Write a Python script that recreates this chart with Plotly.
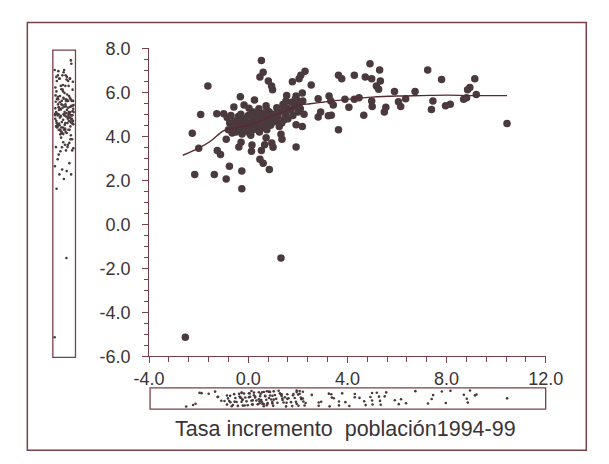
import plotly.graph_objects as go

# ---- data ----
tasa_pob = [
    -2.54, 1.32, 10.44,
    0.53, 0.60, 0.47, 0.81, 0.94, 0.98, -1.63, -0.32, -0.58, -0.17, 0.03, 0.25, 0.43, 0.72,
    -1.92, -1.27, -0.99, -2.26, -2.00, -1.25, -1.12, -0.89, -0.29, -0.38, 0.15, 0.13, 0.53,
    0.66, 0.47, 0.60, 0.85, -0.76, -0.26, -2.16, -1.37, -0.89, -0.26, 0.43, 0.72,
    1.78, 2.12, 2.29, 2.05, 2.54, 1.55, 1.52, 1.93, 1.99, 2.18, 2.82, 3.26, 3.33, 3.43, 3.90,
    4.06, 4.28, 4.47, 2.92, 2.82, 3.23, 3.35, 3.64, 3.64, 3.77, 4.28, 4.66, 4.72, 4.98, 4.91,
    5.30, 5.33, 5.17, 5.26, 4.98, 5.00, 5.55, 5.49, 5.90, 6.06, 1.93, 1.32, 1.36, 1.93, 2.18,
    0.95, 1.00,
    7.24, 7.80, 9.14, 6.15, 6.35, 6.73, 7.45, 7.39, 7.96, 8.15, 8.69, 8.81, 8.85, 8.94, 9.20,
    -0.85, -0.75, -0.70, -0.60, -0.55, -0.50, -0.45, -0.40, -0.35, -0.30, -0.25, -0.20, -0.15,
    -0.10, -0.05, 0.00, 0.00, -0.80, -0.65, -0.30,
    0.05, 0.10, 0.15, 0.20, 0.25, 0.30, 0.35, 0.40, 0.45, 0.50, 0.55, 0.60, 0.65, 0.70, 0.75,
    0.80, 0.85, 0.90, 0.95, 1.00, 0.20, 0.40, 0.75, 0.10,
    1.05, 1.10, 1.15, 1.20, 1.30, 1.35, 1.40, 1.50, 1.55, 1.60, 1.70, 1.75, 1.80, 1.85, 1.90,
    2.00, 2.05, 2.10, 2.20, 2.25, 1.25, 1.45,
]
tasa_y = [
    -5.13, -1.53, 4.58,
    7.45, 6.91, 6.70, 6.51, 6.29, 6.12, 6.29, 5.80, 5.33, 5.42, 5.27, 5.65, 5.25, 5.39,
    4.99, 5.03, 5.03, 4.14, 3.46, 3.36, 3.17, 3.87, 3.73, 3.51, 3.61, 3.32, 3.36,
    3.62, 2.96, 2.78, 2.49, 2.64, 2.42, 2.27, 2.27, 2.06, 1.62, 4.30, 3.94,
    6.48, 6.77, 6.96, 6.62, 6.33, 5.86, 5.61, 5.83, 5.61, 5.97, 5.71, 5.83, 5.61, 5.42, 5.68,
    5.32, 5.68, 5.75, 5.10, 4.88, 4.93, 4.96, 4.30, 6.77, 6.62, 6.77, 4.96, 6.70, 6.62, 7.30,
    7.01, 6.51, 6.29, 6.14, 5.61, 5.36, 5.32, 5.10, 6.04, 5.57, 3.51, 4.09, 3.87, 4.52, 4.45,
    3.70, 3.50,
    7.01, 6.58, 6.62, 5.36, 5.71, 6.04, 5.61, 5.22, 5.39, 5.46, 5.68, 5.75, 6.12, 6.22, 5.90,
    4.85, 4.60, 4.95, 4.40, 4.70, 4.20, 4.55, 4.90, 4.30, 4.65, 4.10, 4.45, 4.80,
    4.25, 4.60, 4.35, 4.95, 4.30, 4.15, 5.00,
    4.15, 4.50, 4.75, 4.30, 4.60, 4.95, 4.40, 4.70, 4.20, 4.55, 4.85, 4.40, 5.05, 4.60, 4.30,
    4.80, 5.10, 4.50, 4.85, 4.65, 5.10, 5.05, 5.20, 4.05,
    5.00, 4.70, 5.30, 4.90, 5.15, 4.60, 5.45, 5.00, 5.30, 4.80, 5.20, 5.55, 4.95, 5.35, 5.70,
    5.10, 5.45, 5.25, 5.60, 5.00, 4.45, 4.75,
]
smooth_x = [-2.64, -2.0, -1.5, -1.0, -0.6, 0.0, 0.5, 1.0, 1.5, 2.0, 2.5, 3.0, 3.5, 4.0,
            5.0, 6.0, 7.0, 8.0, 9.0, 10.44]
smooth_y = [3.14, 3.46, 3.80, 4.25, 4.38, 4.50, 4.70, 4.95, 5.15, 5.40, 5.48, 5.55, 5.62,
            5.68, 5.78, 5.83, 5.85, 5.87, 5.85, 5.85]

x_ticks = [-4, 0, 4, 8, 12]
y_ticks = [-6, -4, -2, 0, 2, 4, 6, 8]
x_title = "Tasa incremento  población1994-99"

# ---- styling ----
W, H = 609, 464
DOT = "#4a3a3e"
LINE = "#7a4049"
TXT = "#3a3336"
FONT = "Liberation Sans, Arial, sans-serif"

def px(x):
    return x / W

def py(y):
    return 1 - y / H

n = len(tasa_pob)
# deterministic jitter positions for the marginal strip plots
jit_a = [0.08 + 0.84 * ((i * 0.6180339) % 1.0) for i in range(n)]
jit_b = [0.12 + 0.76 * ((i * 0.7548777) % 1.0) for i in range(n)]

fig = go.Figure()
fig.add_trace(go.Scatter(x=tasa_pob, y=tasa_y, mode="markers",
                         marker=dict(size=7.5, color=DOT), xaxis="x", yaxis="y"))
fig.add_trace(go.Scatter(x=smooth_x, y=smooth_y, mode="lines",
                         line=dict(color="#5a2a33", width=1.4, shape="spline"),
                         xaxis="x", yaxis="y"))
# left strip (distribution of y)
fig.add_trace(go.Scatter(x=jit_a, y=tasa_y, mode="markers",
                         marker=dict(size=2.6, color=DOT), xaxis="x2", yaxis="y2"))
# bottom strip (distribution of x)
fig.add_trace(go.Scatter(x=tasa_pob, y=jit_b, mode="markers",
                         marker=dict(size=2.6, color=DOT), xaxis="x3", yaxis="y3"))

xd = [px(141), px(561)]
yd = [py(362), py(40)]

fig.update_layout(
    width=W, height=H, margin=dict(l=0, r=0, t=0, b=0),
    paper_bgcolor="white", plot_bgcolor="white", showlegend=False,
    font=dict(family=FONT, size=18, color=TXT),
    xaxis=dict(domain=xd, anchor="y", range=[-4, 12], tickvals=x_ticks,
               ticktext=[f"{v:.1f}" for v in x_ticks],
               ticks="outside", ticklen=6, tickcolor=LINE, tickwidth=1,
               showline=True, linecolor=LINE, linewidth=1.2, showgrid=False,
               zeroline=False, tickfont=dict(size=18, color=TXT),
               minor=dict(tickvals=[-4 + 0.8 * k for k in range(21)], ticks="outside",
                          ticklen=5, tickcolor=LINE, tickwidth=1)),
    yaxis=dict(domain=yd, anchor="x", range=[-6, 8], tickvals=y_ticks,
               ticktext=[f"{v:.1f}" for v in y_ticks],
               ticks="outside", ticklen=6, tickcolor=LINE, tickwidth=1,
               showline=True, linecolor=LINE, linewidth=1.2, showgrid=False,
               zeroline=False, tickfont=dict(size=18, color=TXT),
               ticklabelstandoff=8,
               minor=dict(dtick=0.5, ticks="outside", ticklen=4,
                          tickcolor=LINE, tickwidth=1)),
    xaxis2=dict(domain=[px(39), px(63)], anchor="y2", range=[0, 1], visible=False),
    yaxis2=dict(domain=yd, anchor="x2", range=[-6, 8], visible=False),
    xaxis3=dict(domain=[px(142), px(561)], anchor="y3", range=[-4, 12], visible=False),
    yaxis3=dict(domain=[py(417), py(395)], anchor="x3", range=[0, 1], visible=False),
    shapes=[
        dict(type="rect", xref="paper", yref="paper", x0=px(12), x1=px(604),
             y0=py(460), y1=py(13), line=dict(color=LINE, width=1.5)),
        dict(type="rect", xref="paper", yref="paper", x0=px(39), x1=px(63),
             y0=py(363), y1=py(42), line=dict(color=LINE, width=1.3)),
        dict(type="rect", xref="paper", yref="paper", x0=px(142), x1=px(561),
             y0=py(417), y1=py(395), line=dict(color=LINE, width=1.3)),
    ],
    annotations=[
        dict(text=x_title, xref="paper", yref="paper", x=px(349), y=py(438),
             xanchor="center", yanchor="middle", showarrow=False,
             font=dict(family=FONT, size=21.5, color=TXT)),
    ],
)

fig.write_html("out.html")
